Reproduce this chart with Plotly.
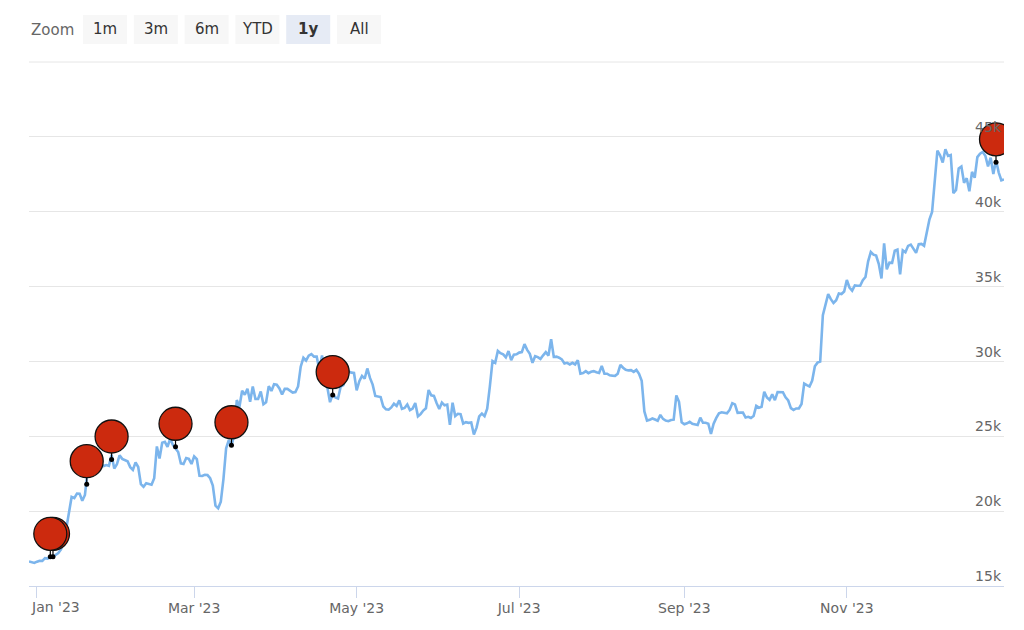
import pandas as pd
import plotly.graph_objects as go

# ---------------- data ----------------
start_date = "2022-12-29"
prices_dec22 = [16640, 16600, 16540]
prices_jan = [16625,16690,16680,16860,16830,16950,16950,17090,17200,17440,
              17940,18850,19930,20950,20870,21170,21160,20690,21080,22680,
              22780,22710,22920,22630,23060,23010,23080,23030,23770,22840,23130]
prices_feb = [23730,23490,23430,23330,22940,22760,23260,22950,21800,21630,
              21860,21790,21770,22200,24320,23520,24570,24630,24290,24840,
              24430,24190,23950,23190,23150,23550,23490,23150]
prices_mar = [23650,23470,22360,22350,22430,22410,22200,21710,20360,20190,
              20630,22160,24200,24750,24380,25060,27420,26970,28040,27770,
              28170,27310,28330,27490,27490,27990,27140,27270,28350,28030,28480]
prices_apr = [28450,28200,27790,28170,28170,28040,27920,27950,28330,29650,
              30240,30060,30390,30490,30320,30320,29450,30400,28820,28250,
              27280,27820,27590,27520,28310,28420,29470,29340,29250,29230]
prices_may = [28070,28680,29030,28850,29530,28900,28450,27690,27660,27620,
              26990,26800,26780,26930,27180,27030,27400,26830,26890,27120,
              26750,26850,27220,26330,26480,26720,26870,28090,27740,27700,27220]
prices_jun = [26820,27250,27070,27120,25760,27240,26350,26500,26480,25850,
              25940,25900,25920,25120,25580,26330,26510,26340,26850,28330,
              30030,29910,30700,30550,30470,30270,30690,30080,30450,30480]
prices_jul = [30590,30620,31160,30770,30510,29910,30350,30290,30170,30410,
              30620,30390,31480,30300,30320,30250,30140,29860,29910,29800,
              29910,29800,30080,29180,29230,29350,29220,29310,29350,29280,29230]
prices_aug = [29700,29180,29180,29070,29050,29040,29180,29770,29580,29440,
              29400,29420,29300,29430,29170,28700,26660,26050,26100,26190,
              26120,26040,26430,26160,26050,26010,26090,26110,27730,27300,25930]
prices_sep = [25800,25870,25970,25830,25790,25750,26240,25900,25900,25840,
              25160,25840,26230,26540,26600,26570,26530,26760,27210,27130,
              26570,26580,26580,26250,26300,26220,26350,27030,26910,26970]
prices_oct = [27980,27590,27430,27800,27410,27950,27970,27940,27600,27390,
              26880,26760,26860,26860,27160,28520,28420,28330,28720,29680,
              29920,29990,33090,33900,34500,34160,33910,34090,34540,34500,34670]
prices_nov = [35440,34940,34730,35080,35050,35050,35420,35640,36690,37310,
              37130,37070,36500,35540,37880,36150,36600,36590,37390,37470,
              35810,37420,37290,37720,37800,37480,37250,37830,37850,37720]
prices_dec = [38690,39480,39980,41980,44080,43770,43290,44170,43730,43790,
              41240,41450,42890,43020,41930,42240,41360,42660,42270,43650,
              43870,43990,43740,43020,43610,42520,43440,42630,42100,42160]

prices = (prices_dec22 + prices_jan + prices_feb + prices_mar + prices_apr +
          prices_may + prices_jun + prices_jul + prices_aug + prices_sep +
          prices_oct + prices_nov + prices_dec)
dates = pd.date_range(start_date, periods=len(prices), freq="D")

flag_dates = ["2023-01-06", "2023-01-07", "2023-01-19 16:00", "2023-01-29",
              "2023-02-22", "2023-03-15", "2023-04-22", "2023-12-27"]
flag_values = [16950, 16950, 21800, 23450, 24300, 24400, 27750, 43300]

x_tick_dates = ["2023-01-01", "2023-03-01", "2023-05-01", "2023-07-01",
                "2023-09-01", "2023-11-01"]
x_tick_labels = ["Jan '23", "Mar '23", "May '23", "Jul '23", "Sep '23", "Nov '23"]
y_tick_values = [15000, 20000, 25000, 30000, 35000, 40000, 45000]
y_tick_labels = ["15k", "20k", "25k", "30k", "35k", "40k", "45k"]

zoom_buttons = ["1m", "3m", "6m", "YTD", "1y", "All"]
selected_button = "1y"

# ---------------- layout constants ----------------
BODY = 8                      # default page margin around the plot div
W, H = 1024 - BODY, 630 - BODY
# plot area in page pixels: left 29, right 1004, top 62, bottom 586
ML = 29 - BODY
MT = 62 - BODY
MR = W - (1004 - BODY)
MB = H - (586 - BODY)
PW, PH = W - ML - MR, H - MT - MB
Y_MIN, Y_MAX = 15000, 50000
FONT = "DejaVu Sans"

def px_x(px):   # page pixel -> paper x
    return (px - BODY - ML) / PW

def px_y(py):   # page pixel -> paper y
    return (H - MB - (py - BODY)) / PH

units_per_px = (Y_MAX - Y_MIN) / PH
flag_offset = 23 * units_per_px

fig = go.Figure()

fig.add_trace(go.Scatter(
    x=dates, y=prices, mode="lines",
    line=dict(color="#7cb5ec", width=2.6),
    hoverinfo="skip", showlegend=False))

# flags (stems, dots, circles)
stem_x, stem_y = [], []
for d, v in zip(flag_dates, flag_values):
    stem_x += [d, d, None]
    stem_y += [v, v + flag_offset, None]
fig.add_trace(go.Scatter(x=stem_x, y=stem_y, mode="lines",
                         line=dict(color="#000000", width=1.2),
                         hoverinfo="skip", showlegend=False))
fig.add_trace(go.Scatter(x=flag_dates, y=flag_values, mode="markers",
                         marker=dict(color="#000000", size=5),
                         hoverinfo="skip", showlegend=False))
fig.add_trace(go.Scatter(
    x=flag_dates[::-1], y=[v + flag_offset for v in flag_values[::-1]],
    mode="markers",
    marker=dict(color="#cc2a0e", size=33, line=dict(color="#111111", width=1.3)),
    hoverinfo="skip", showlegend=False))

shapes = []
annotations = []

# top border line of plot area
shapes.append(dict(type="line", xref="paper", yref="paper", x0=0, x1=1, y0=1, y1=1,
                   line=dict(color="#e6e6e6", width=1)))

# range-selector look
annotations.append(dict(text="Zoom", xref="paper", yref="paper",
                        x=px_x(52), y=px_y(30), xanchor="center", yanchor="middle",
                        showarrow=False, font=dict(family=FONT, size=15, color="#666666")))
btn_left0, btn_w, btn_step, btn_top, btn_bot = 83, 44, 50.8, 15, 44
for i, lab in enumerate(zoom_buttons):
    x0 = btn_left0 + i * btn_step
    sel = lab == selected_button
    shapes.append(dict(type="rect", xref="paper", yref="paper",
                       x0=px_x(x0), x1=px_x(x0 + btn_w), y0=px_y(btn_bot), y1=px_y(btn_top),
                       fillcolor="#e6ebf5" if sel else "#f7f7f7", line=dict(width=0),
                       layer="below"))
    annotations.append(dict(text=f"<b>{lab}</b>" if sel else lab, xref="paper", yref="paper",
                            x=px_x(x0 + btn_w / 2), y=px_y(29.5), xanchor="center",
                            yanchor="middle", showarrow=False,
                            font=dict(family=FONT, size=15, color="#333333")))

# first x label (shifted like Highcharts does at the edge)
annotations.append(dict(text=x_tick_labels[0], xref="x", yref="paper",
                        x=x_tick_dates[0], y=0, xanchor="left", yanchor="top",
                        xshift=-8, yshift=-11, showarrow=False,
                        font=dict(family=FONT, size=14, color="#666666")))

fig.update_layout(
    width=W, height=H,
    margin=dict(l=ML, r=MR, t=MT, b=MB, pad=0),
    paper_bgcolor="#ffffff", plot_bgcolor="#ffffff",
    showlegend=False,
    shapes=shapes, annotations=annotations,
    xaxis=dict(type="date", range=["2022-12-29", "2023-12-30"],
               tickmode="array", tickvals=x_tick_dates,
               ticktext=[""] + x_tick_labels[1:],
               ticks="outside", ticklen=11, tickcolor="#ccd6eb", tickwidth=1,
               ticklabelstandoff=-2,
               showline=True, linecolor="#ccd6eb", linewidth=1,
               showgrid=False, zeroline=False,
               tickfont=dict(family=FONT, size=14, color="#666666")),
    yaxis=dict(range=[Y_MIN, Y_MAX], side="right",
               tickmode="array", tickvals=y_tick_values, ticktext=y_tick_labels,
               ticklabelposition="inside top", ticks="",
               showgrid=True, gridcolor="#e6e6e6", gridwidth=1,
               zeroline=False, showline=False,
               tickfont=dict(family=FONT, size=14, color="#666666")),
)

fig.write_html("out.html")
